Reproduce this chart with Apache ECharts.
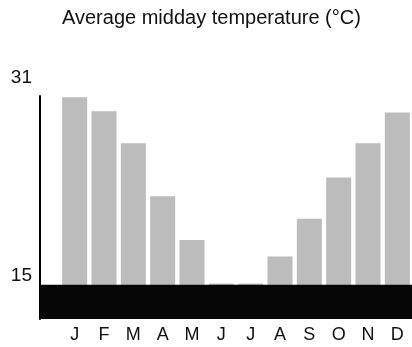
<!DOCTYPE html>
<html>
<head>
<meta charset="utf-8">
<script src="https://cdn.jsdelivr.net/npm/echarts@6/dist/echarts.min.js"></script>
<style>
html,body{margin:0;padding:0;background:#fff;}
#chart{width:412px;height:347px;}
</style>
</head>
<body>
<div id="chart"></div>
<script>
var titleText = 'Average midday temperature (°C)';
var months = ['J','F','M','A','M','J','J','A','S','O','N','D'];
var temps = [30.9, 29.7, 27.0, 22.5, 18.8, 15.1, 15.1, 17.4, 20.6, 24.1, 27.0, 29.6];
var yTicks = [15, 31];
var yMin = 12.1;
var yMax = 31;
var bandTop = 15;

var chart = echarts.init(document.getElementById('chart'), null, {renderer: 'canvas'});
var font = '"Liberation Sans", Arial, sans-serif';
chart.setOption({
  animation: false,
  backgroundColor: '#ffffff',
  title: {
    text: titleText,
    left: 62,
    top: 8,
    padding: 0,
    textStyle: {fontFamily: font, fontSize: 20, fontWeight: 'normal', color: '#111'}
  },
  grid: [
    {left: 40, right: 0, top: 96, bottom: 28},
    {left: 60, right: -8, top: 96, bottom: 28}
  ],
  xAxis: [
    {gridIndex: 0, type: 'value', min: 0, max: 1, show: false},
    {gridIndex: 1, type: 'category', data: months,
     axisLine: {show: false}, axisTick: {show: false},
     axisLabel: {fontFamily: font, fontSize: 18, color: '#111', margin: 7}}
  ],
  yAxis: [
    {gridIndex: 0, type: 'value', min: yMin, max: yMax,
     splitLine: {show: false},
     axisLine: {show: true, lineStyle: {color: '#000', width: 2}},
     axisTick: {show: false},
     axisLabel: {
       customValues: yTicks,
       fontFamily: font, fontSize: 19, color: '#111', margin: 8,
       verticalAlign: 'bottom',
       formatter: function (v) { return v === 31 ? '{t|' + v + '}' : '{b|' + v + '}'; },
       rich: {
         t: {fontFamily: font, fontSize: 19, color: '#111', padding: [0, 0, 9, 0]},
         b: {fontFamily: font, fontSize: 19, color: '#111', padding: [0, 0, 0, 0]}
       }
     }},
    {gridIndex: 1, type: 'value', min: yMin, max: yMax, show: false, splitLine: {show: false}}
  ],
  series: [
    {
      type: 'bar', xAxisIndex: 1, yAxisIndex: 1, data: temps,
      barWidth: 25, z: 2,
      itemStyle: {color: '#bcbcbc'}
    },
    {
      type: 'line', xAxisIndex: 0, yAxisIndex: 0, data: [], z: 5,
      markArea: {
        silent: true, z: 5,
        itemStyle: {color: '#050505', opacity: 1},
        data: [[{yAxis: yMin}, {yAxis: bandTop}]]
      }
    }
  ]
});
</script>
</body>
</html>
